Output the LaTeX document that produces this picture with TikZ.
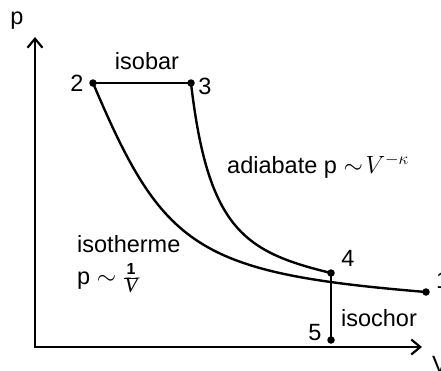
\documentclass[tikz,border=0pt]{standalone}
\usepackage{fontspec}
\setmainfont{Liberation Sans}
\newfontfamily\tmsfont{Liberation Serif}
\usetikzlibrary{arrows.meta}
\begin{document}
\begin{tikzpicture}[x=1pt,y=-1pt,
  lbl/.style={font=\fontsize{23.5}{28}\selectfont, inner sep=0pt},
  curve/.style={line width=2.4pt},
  axis/.style={line width=2.8pt, line join=miter,
    {Straight Barb[length=9pt,width=15pt,line width=2.2pt]}-{Straight Barb[length=9pt,width=15pt,line width=2.2pt]}},
  dot/.style={circle, fill, inner sep=0pt, minimum size=7.5pt}]
\useasboundingbox (0,0) rectangle (441,370);
\fill[white] (0,0) rectangle (441,370);
% axes
\coordinate (O) at (35,347);
\coordinate (Ytip) at (35,37);
\coordinate (Xtip) at (422,347);
\draw[axis] (Ytip) -- (O) -- (Xtip);
\node[lbl] (plab) at (17,21) {p};
\node[lbl, anchor=west] (vlab) at (432,364) {V};
% state points
\coordinate (P1) at (426,292);
\coordinate (P2) at (93,83);
\coordinate (P3) at (191,83);
\coordinate (P4) at (331,273);
\coordinate (P5) at (331,340);
% processes
\draw[curve] (P2) -- (P3);
\draw[curve] (P3) .. controls (208,230) and (245,252) .. (P4);
\draw[curve] (P4) -- (P5);
\draw[curve] (P2) .. controls (163,248) and (196,273) .. (P1);
% dots
\foreach \p in {P1,P2,P3,P4,P5} \node[dot] (d\p) at (\p) {};
% labels
\node[lbl] (l2) at (77,83) {2};
\node[lbl] (l3) at (205,86) {3};
\node[lbl] (l4) at (348,258) {4};
\node[lbl] (l5) at (315,333) {5};
\node[lbl, anchor=west] (l1) at (436,280) {1};
\node[lbl] (isobar) at (147,61) {isobar};
\node[lbl, anchor=west] (adia) at (227,166) {adiabate p $\sim\!V^{-\kappa}$};
\node[lbl] (isochor) at (379,318) {isochor};
\node[lbl, anchor=west] (isoth) at (77,244) {isotherme};
\node[lbl, anchor=base west] (isoth2) at (77,284) {p $\sim\frac{\hbox{\fontsize{16}{16}\selectfont\bfseries 1}}{\hbox{\fontsize{22}{22}\selectfont\tmsfont\itshape V}}$};
\end{tikzpicture}
\end{document}
